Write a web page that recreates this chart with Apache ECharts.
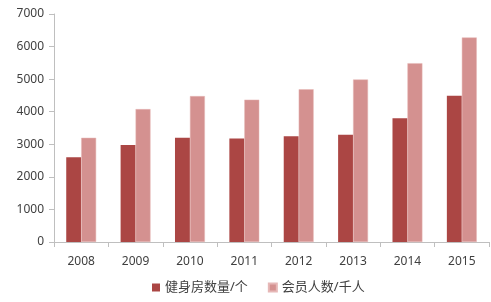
<!DOCTYPE html>
<html><head><meta charset="utf-8">
<script src="https://cdn.jsdelivr.net/npm/echarts@6/dist/echarts.min.js"></script>
<style>html,body{margin:0;padding:0;background:#fff}#c{width:491px;height:302px}</style>
</head><body><div id="c"></div>
<script>
var years = ['2008','2009','2010','2011','2012','2013','2014','2015'];
var gyms = [2600, 2980, 3200, 3180, 3250, 3290, 3800, 4490];
var members = [3200, 4080, 4480, 4370, 4690, 4990, 5490, 6280];
var yTicks = [0, 1000, 2000, 3000, 4000, 5000, 6000, 7000];
var seriesNames = ['健身房数量/个', '会员人数/千人'];

var chart = echarts.init(document.getElementById('c'), null, {renderer: 'canvas'});
var font = '"Noto Sans", "Noto Sans CJK SC", sans-serif';
chart.setOption({
  animation: false,
  textStyle: {fontFamily: font},
  grid: {left: 54, right: 2, top: 14, bottom: 60, containLabel: false},
  legend: {
    bottom: 3, left: 147, itemWidth: 8, itemHeight: 8, itemGap: 20,
    icon: 'rect',
    textStyle: {fontSize: 13, color: '#404040', fontFamily: font},
    data: seriesNames
  },
  xAxis: {
    type: 'category', data: years,
    axisLine: {lineStyle: {color: '#bfbfbf'}},
    axisTick: {show: true, length: 5, lineStyle: {color: '#bfbfbf'}},
    axisLabel: {color: '#404040', fontSize: 12, margin: 14}
  },
  yAxis: {
    type: 'value', min: yTicks[0], max: yTicks[yTicks.length-1], interval: 1000,
    axisLine: {show: true, lineStyle: {color: '#bfbfbf'}},
    axisTick: {show: true, length: 5, lineStyle: {color: '#bfbfbf'}},
    splitLine: {show: false},
    axisLabel: {color: '#404040', fontSize: 12, margin: 10, formatter: function (v) { return String(v); }}
  },
  series: [
    {name: seriesNames[0], type: 'bar', data: gyms, barGap: '0%', barCategoryGap: '45%',
     itemStyle: {color: '#ab4644'}},
    {name: seriesNames[1], type: 'bar', data: members,
     itemStyle: {color: '#d49190', borderColor: '#e6b8b7', borderWidth: 0.5}}
  ]
});
</script></body></html>
